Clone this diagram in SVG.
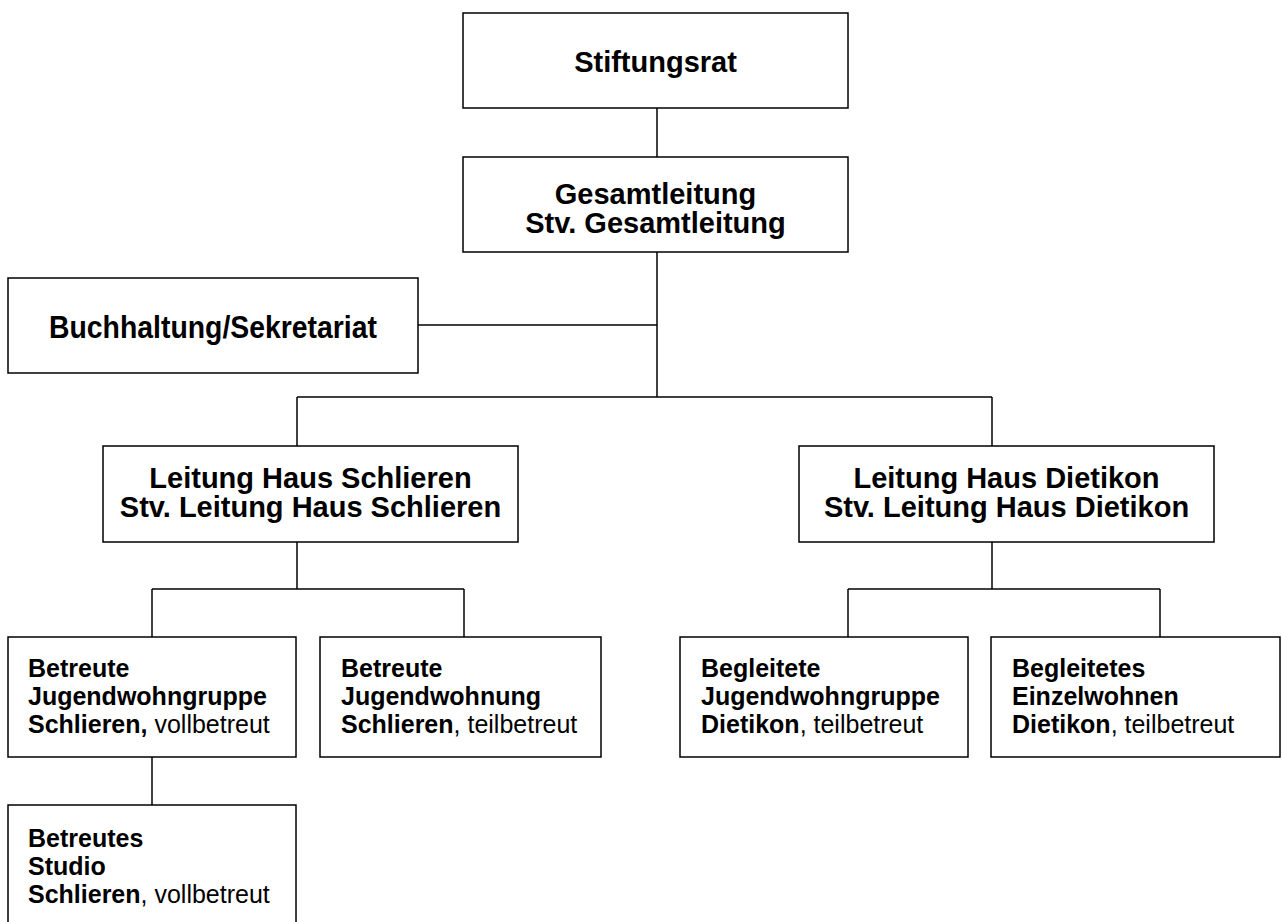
<svg xmlns="http://www.w3.org/2000/svg" width="1282" height="922" viewBox="0 0 1282 922">
<style>
rect{fill:#fff;stroke:#000;stroke-width:1.5}
.c line{stroke:#000;stroke-width:1.5}
text{font-family:"Liberation Sans",Arial,sans-serif;fill:#000}
.big{font-size:29px;font-weight:bold;text-anchor:middle}
.sm{font-size:25px}
.b{font-weight:bold}
</style>
<rect x="0" y="0" width="1282" height="922" style="stroke:none"/>
<g class="c" id="connectors">
<line x1="657" y1="108" x2="657" y2="157"/>
<line x1="657" y1="252" x2="657" y2="397"/>
<line x1="418" y1="325" x2="657" y2="325"/>
<line x1="297" y1="397" x2="992" y2="397"/>
<line x1="297" y1="397" x2="297" y2="446"/>
<line x1="992" y1="397" x2="992" y2="446"/>
<line x1="297" y1="542" x2="297" y2="589"/>
<line x1="152" y1="589" x2="464" y2="589"/>
<line x1="152" y1="589" x2="152" y2="637"/>
<line x1="464" y1="589" x2="464" y2="637"/>
<line x1="992" y1="542" x2="992" y2="589"/>
<line x1="848" y1="589" x2="1160" y2="589"/>
<line x1="848" y1="589" x2="848" y2="637"/>
<line x1="1160" y1="589" x2="1160" y2="637"/>
<line x1="152" y1="757" x2="152" y2="805"/>
</g>
<g id="stiftungsrat">
<rect x="463" y="13" width="385" height="95"/>
<text class="big" x="655.5" y="72">Stiftungsrat</text>
</g>
<g id="gesamtleitung">
<rect x="463" y="157" width="385" height="95"/>
<text class="big" x="655.5" y="204">Gesamtleitung</text>
<text class="big" x="655.5" y="233">Stv. Gesamtleitung</text>
</g>
<g id="buchhaltung">
<rect x="8" y="278" width="410" height="95"/>
<text class="big" x="213" y="338" style="font-size:31px" textLength="328" lengthAdjust="spacingAndGlyphs">Buchhaltung/Sekretariat</text>
</g>
<g id="leitung-schlieren">
<rect x="103" y="446" width="415" height="96"/>
<text class="big" x="310.5" y="488">Leitung Haus Schlieren</text>
<text class="big" x="310.5" y="517">Stv. Leitung Haus Schlieren</text>
</g>
<g id="leitung-dietikon">
<rect x="799" y="446" width="415" height="96"/>
<text class="big" x="1006.5" y="488">Leitung Haus Dietikon</text>
<text class="big" x="1006.5" y="517">Stv. Leitung Haus Dietikon</text>
</g>
<g id="jwg-schlieren">
<rect x="8" y="637" width="288" height="120"/>
<text class="sm b" x="28" y="677">Betreute</text>
<text class="sm b" x="28" y="705">Jugendwohngruppe</text>
<text class="sm" x="28" y="733"><tspan class="b">Schlieren,</tspan> vollbetreut</text>
</g>
<g id="jw-schlieren">
<rect x="320" y="637" width="281" height="120"/>
<text class="sm b" x="341" y="677">Betreute</text>
<text class="sm b" x="341" y="705">Jugendwohnung</text>
<text class="sm" x="341" y="733"><tspan class="b">Schlieren</tspan>, teilbetreut</text>
</g>
<g id="jwg-dietikon">
<rect x="680" y="637" width="288" height="120"/>
<text class="sm b" x="701" y="677">Begleitete</text>
<text class="sm b" x="701" y="705">Jugendwohngruppe</text>
<text class="sm" x="701" y="733"><tspan class="b">Dietikon</tspan>, teilbetreut</text>
</g>
<g id="einzelwohnen-dietikon">
<rect x="991" y="637" width="289" height="120"/>
<text class="sm b" x="1012" y="677">Begleitetes</text>
<text class="sm b" x="1012" y="705">Einzelwohnen</text>
<text class="sm" x="1012" y="733"><tspan class="b">Dietikon</tspan>, teilbetreut</text>
</g>
<g id="studio-schlieren">
<rect x="8" y="805" width="288" height="125"/>
<text class="sm b" x="28" y="847">Betreutes</text>
<text class="sm b" x="28" y="875">Studio</text>
<text class="sm" x="28" y="903"><tspan class="b">Schlieren</tspan>, vollbetreut</text>
</g>
</svg>
